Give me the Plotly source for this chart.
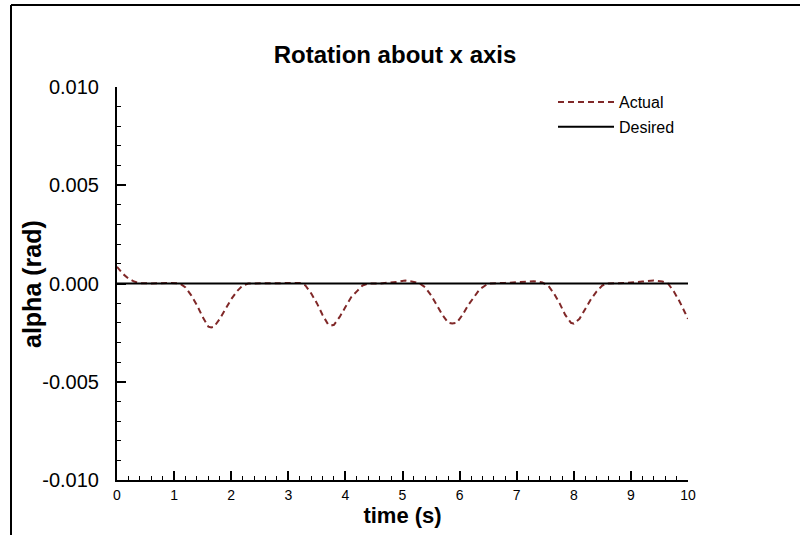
import plotly.graph_objects as go

# ---- data ----
time_actual = [0.0, 0.1, 0.2, 0.3, 0.4, 0.6, 0.9, 1.0, 1.1, 1.2, 1.3, 1.4, 1.5, 1.6, 1.65, 1.7,
               1.8, 1.9, 2.0, 2.1, 2.2, 2.3, 2.5, 3.0, 3.2, 3.3, 3.4, 3.5, 3.6, 3.7, 3.75, 3.8,
               3.9, 4.0, 4.1, 4.2, 4.3, 4.4, 4.6, 4.9, 5.05, 5.2, 5.3, 5.4, 5.5, 5.6, 5.7, 5.8,
               5.87, 5.95, 6.05, 6.15, 6.25, 6.35, 6.45, 6.5, 6.8, 7.0, 7.2, 7.3, 7.45, 7.55,
               7.65, 7.75, 7.85, 7.95, 8.0, 8.1, 8.2, 8.3, 8.4, 8.5, 8.6, 8.9, 9.2, 9.4, 9.55,
               9.65, 9.75, 9.85, 9.95, 10.0]
alpha_actual = [0.00085, 0.0005, 0.00025, 0.0001, 0.00002, 0.0, 0.00003, 0.00003, 0.0, -0.0002,
                -0.0006, -0.0011, -0.0017, -0.0022, -0.00224, -0.0022, -0.0018, -0.0013, -0.0008,
                -0.0004, -0.0001, 0.0, 0.0, 0.00003, 0.00003, -0.0001, -0.0005, -0.0010, -0.0016,
                -0.0021, -0.00214, -0.0021, -0.0017, -0.0012, -0.0007, -0.0004, -0.0001, 0.0, 0.0,
                0.00008, 0.00015, 0.00008, 0.0, -0.0002, -0.0006, -0.0011, -0.0016, -0.0020,
                -0.00204, -0.0020, -0.0016, -0.0011, -0.0007, -0.0003, -0.0001, 0.0, 0.00003,
                0.00005, 0.0001, 0.00012, 0.00005, -0.0001, -0.0005, -0.0010, -0.0016, -0.0020,
                -0.00204, -0.0018, -0.0013, -0.0008, -0.0004, -0.0001, 0.0, 0.00003, 0.0001,
                0.00015, 0.0001, 0.0, -0.0004, -0.0009, -0.0015, -0.0018]
time_desired = [0.0, 10.0]
alpha_desired = [0.0, 0.0]

x_ticks = [0, 1, 2, 3, 4, 5, 6, 7, 8, 9, 10]
y_ticks = [-0.010, -0.005, 0.000, 0.005, 0.010]
y_tick_labels = ["-0.010", "-0.005", "0.000", "0.005", "0.010"]

fig = go.Figure()
fig.add_trace(go.Scatter(
    x=time_actual, y=alpha_actual, mode="lines", name="Actual",
    line=dict(color="#802828", width=2, dash="6px,4px"), legendgroup="a"))
fig.add_trace(go.Scatter(
    x=time_desired, y=alpha_desired, mode="lines", name="Desired",
    line=dict(color="black", width=2), legendgroup="b"))

L, R, T, B = 117, 112, 87, 55
W, H = 800, 535
pw, ph = W - L - R, H - T - B

def px_x(p):
    return (p - L) / pw

def px_y(p):
    return (H - B - p) / ph

fig.update_layout(
    width=W, height=H,
    margin=dict(l=L, r=R, t=T, b=B, autoexpand=False),
    paper_bgcolor="white", plot_bgcolor="white",
    font=dict(family="Liberation Sans, Arial, sans-serif", color="black"),
    title=dict(text="<b>Rotation about x axis</b>", x=395 / W, xanchor="center",
               y=1 - 55 / H, yanchor="middle", font=dict(size=24)),
    showlegend=True,
    legend=dict(x=px_x(553), y=px_y(85), xanchor="left", yanchor="top",
                bgcolor="rgba(0,0,0,0)", font=dict(size=16),
                traceorder="grouped", tracegroupgap=1, itemwidth=56),
    xaxis=dict(range=[0, 10], tickvals=x_ticks, ticktext=[str(v) for v in x_ticks],
               ticks="inside", ticklen=9, tickwidth=1.5, tickcolor="black",
               minor=dict(ticks="inside", ticklen=4, dtick=0.2, tickcolor="black", tickwidth=1),
               showline=True, linecolor="black", linewidth=2, showgrid=False, zeroline=False,
               tickfont=dict(size=14), ticklabelstandoff=1,
               title=dict(text="<b>time (s)</b>", font=dict(size=22), standoff=0)),
    yaxis=dict(range=[-0.010, 0.010], tickvals=y_ticks, ticktext=y_tick_labels,
               ticks="inside", ticklen=9, tickwidth=1.5, tickcolor="black",
               minor=dict(ticks="inside", ticklen=4, dtick=0.001, tickcolor="black", tickwidth=1),
               showline=True, linecolor="black", linewidth=2, showgrid=False, zeroline=False,
               tickfont=dict(size=20), ticklabelstandoff=12),
)

# y-axis title placed as rotated text to sit close to the tick labels
fig.add_annotation(text="<b>alpha (rad)</b>", xref="paper", yref="paper",
                   x=px_x(32), y=px_y(284), xanchor="center", yanchor="middle",
                   textangle=-90, showarrow=False, font=dict(size=25))

# outer frame (left and top edges)
fig.add_shape(type="line", xref="paper", yref="paper",
              x0=px_x(11), x1=px_x(11), y0=px_y(5), y1=px_y(540),
              line=dict(color="black", width=2))
fig.add_shape(type="line", xref="paper", yref="paper",
              x0=px_x(11), x1=px_x(805), y0=px_y(5), y1=px_y(5),
              line=dict(color="black", width=2))

fig.write_html("out.html")
